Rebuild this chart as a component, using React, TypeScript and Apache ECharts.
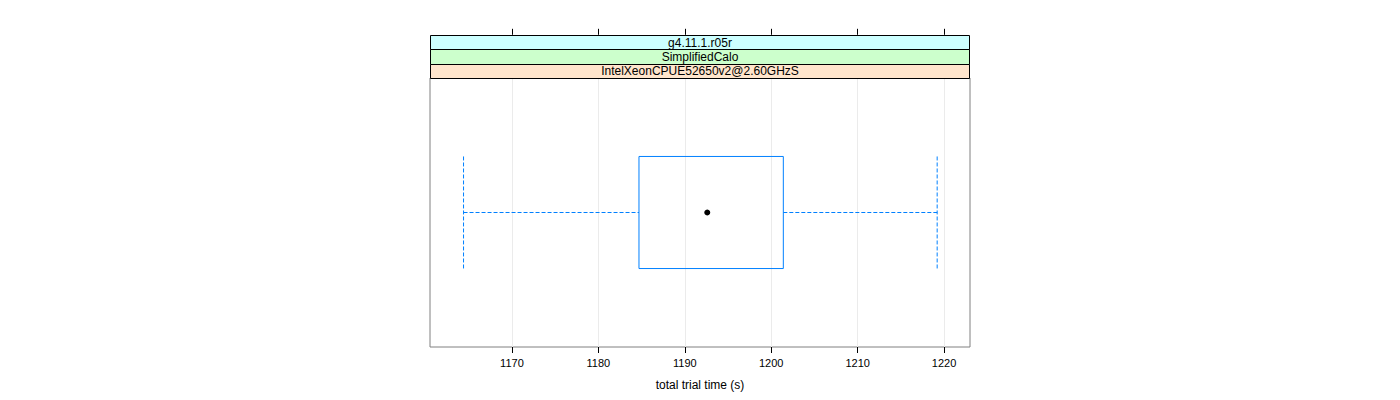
import React, { useEffect, useRef } from "react";
import * as echarts from "echarts";

const categories = ["IntelXeonCPUE52650v2@2.60GHzS"];
// [min whisker, Q1, median, Q3, max whisker]
const boxStats = [[1164.4, 1184.7, 1192.6, 1201.4, 1219.2]];
const tickValues = [1170, 1180, 1190, 1200, 1210, 1220];
const stripLabels = ["g4.11.1.r05r", "SimplifiedCalo", "IntelXeonCPUE52650v2@2.60GHzS"];
const stripColors = ["#ccffff", "#ccffcc", "#ffe5cc"];
const xMin = 1160.52;
const xMax = 1223.0;
const xTitle = "total trial time (s)";

const FONT = "'Liberation Sans', Arial, sans-serif";

export default function App() {
  const ref = useRef<HTMLDivElement>(null);
  useEffect(() => {
    if (!ref.current) return;
    const chart = echarts.init(ref.current, undefined, { renderer: "svg" });
    const gridLeft = 430;
    const gridTop = 78;
    const gridW = 540;
    const gridH = 269;
    const stripH = 14.4;
    const stripTop = gridTop - stripH * stripLabels.length;

    const graphics: any[] = [];
    stripLabels.forEach((lab, i) => {
      const y = stripTop + i * stripH;
      graphics.push({
        type: "rect",
        shape: { x: gridLeft + 0.5, y: Math.round(y) + 0.5, width: gridW - 1, height: Math.round(y + stripH) - Math.round(y) },
        style: { fill: stripColors[i], stroke: "#000", lineWidth: 1 },
        z: 10,
      });
      graphics.push({
        type: "text",
        x: gridLeft + gridW / 2,
        y: y + stripH / 2 + 0.5,
        style: {
          text: lab,
          fill: "#000",
          font: `12px ${FONT}`,
          align: "center",
          verticalAlign: "middle",
        },
        z: 11,
      });
    });

    const data = boxStats.map((s, i) => [i, ...s]);

    chart.setOption({
      animation: false,
      backgroundColor: "#fff",
      grid: {
        left: gridLeft,
        top: gridTop,
        width: gridW,
        height: gridH,
        show: true,
        borderColor: "#808080",
        borderWidth: 1,
        backgroundColor: "transparent",
      },
      xAxis: [
        {
          type: "value",
          position: "bottom",
          min: xMin,
          max: xMax,
          name: xTitle,
          nameLocation: "middle",
          nameGap: 32,
          nameTextStyle: { fontFamily: FONT, fontSize: 12, color: "#000" },
          axisLine: { show: false },
          axisTick: { show: true, inside: false, length: 6, lineStyle: { color: "#000" }, customValues: tickValues },
          axisLabel: {
            show: true,
            customValues: tickValues,
            formatter: (v: number) => String(Math.round(v)),
            fontFamily: FONT,
            fontSize: 11,
            color: "#000",
            margin: 10,
          },
          splitLine: { show: true, lineStyle: { color: "#ebebeb", width: 1 } },
        },
        {
          type: "value",
          position: "top",
          offset: gridTop - stripTop,
          min: xMin,
          max: xMax,
          axisLine: { show: false },
          axisTick: { show: true, inside: false, length: 6, lineStyle: { color: "#000" }, customValues: tickValues },
          axisLabel: { show: false },
          splitLine: { show: false },
        },
      ],
      yAxis: {
        type: "category",
        data: categories,
        axisLine: { show: false },
        axisTick: { show: false },
        axisLabel: { show: false },
        splitLine: { show: false },
      },
      graphic: graphics,
      series: [
        {
          type: "custom",
          xAxisIndex: 0,
          encode: { x: [1, 2, 3, 4, 5], y: 0 },
          data,
          renderItem: (params: any, api: any) => {
            const cat = api.value(0);
            const vmin = api.value(1);
            const q1 = api.value(2);
            const med = api.value(3);
            const q3 = api.value(4);
            const vmax = api.value(5);
            const band = api.size([0, 1])[1];
            const half = (band * (0.5 / 1.2)) / 2;
            const pMin = api.coord([vmin, cat]);
            const pQ1 = api.coord([q1, cat]);
            const pMed = api.coord([med, cat]);
            const pQ3 = api.coord([q3, cat]);
            const pMax = api.coord([vmax, cat]);
            const cy = pMed[1];
            const col = "#0080ff";
            const dashStyle = { stroke: col, lineWidth: 1, lineDash: [4, 2], fill: "none" };
            return {
              type: "group",
              children: [
                { type: "line", shape: { x1: pMin[0], y1: cy, x2: pQ1[0], y2: cy }, style: dashStyle },
                { type: "line", shape: { x1: pQ3[0], y1: cy, x2: pMax[0], y2: cy }, style: dashStyle },
                { type: "line", shape: { x1: pMin[0], y1: cy - half, x2: pMin[0], y2: cy + half }, style: dashStyle },
                { type: "line", shape: { x1: pMax[0], y1: cy - half, x2: pMax[0], y2: cy + half }, style: dashStyle },
                {
                  type: "rect",
                  shape: { x: pQ1[0], y: cy - half, width: pQ3[0] - pQ1[0], height: 2 * half },
                  style: { stroke: col, lineWidth: 1, fill: "none" },
                },
                { type: "circle", shape: { cx: pMed[0], cy, r: 3 }, style: { fill: "#000", stroke: "none" } },
              ],
            };
          },
        },
      ],
    });
    return () => chart.dispose();
  }, []);
  return (
    <div
      ref={ref}
      style={{ position: "fixed", left: 0, top: 0, width: 1400, height: 400, background: "#fff" }}
    />
  );
}
